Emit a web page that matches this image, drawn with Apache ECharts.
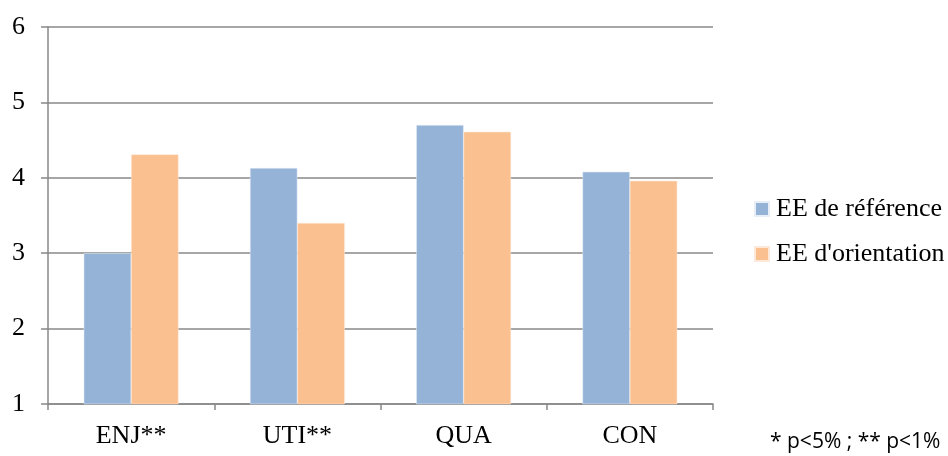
<!DOCTYPE html>
<html><head><meta charset="utf-8">
<script src="https://cdn.jsdelivr.net/npm/echarts@6/dist/echarts.min.js"></script>
<style>html,body{margin:0;padding:0;background:#fff}#c{width:948px;height:456px}</style>
</head><body><div id="c"></div>
<script>
const categories = ['ENJ**', 'UTI**', 'QUA', 'CON'];
const seriesNames = ['EE de référence', "EE d'orientation"];
const reference = [3.0, 4.13, 4.70, 4.08];
const orientation = [4.31, 3.40, 4.61, 3.96];
const noteText = '* p<5% ; ** p<1%';

const chart = echarts.init(document.getElementById('c'), null, {renderer: 'canvas'});
const serif = '"Liberation Serif", "Times New Roman", serif';
chart.setOption({
  animation: false,
  grid: {left: 48, right: 235, top: 27, bottom: 52},
  legend: {
    orient: 'vertical', left: 754, top: 196, padding: 0,
    itemWidth: 14, itemHeight: 14, itemGap: 19,
    icon: 'rect',
    textStyle: {fontFamily: serif, fontSize: 26, lineHeight: 26, color: '#000', padding: [0,0,0,2]},
    data: seriesNames
  },
  xAxis: {
    type: 'category', data: categories,
    axisLine: {lineStyle: {color: '#888', width: 1.5}},
    axisTick: {show: true, length: 6, lineStyle: {color: '#888', width: 1.5}},
    axisLabel: {fontFamily: serif, fontSize: 26, color: '#000', margin: 19}
  },
  yAxis: {
    type: 'value', min: 1, max: 6, interval: 1,
    axisLine: {show: true, lineStyle: {color: '#888', width: 1.5}},
    axisTick: {show: true, length: 7, lineStyle: {color: '#888', width: 1.5}},
    axisLabel: {fontFamily: serif, fontSize: 26, color: '#000', margin: 23},
    splitLine: {lineStyle: {color: '#888', width: 1.5}}
  },
  series: [
    {name: seriesNames[0], type: 'bar', data: reference, barGap: '0%', barCategoryGap: '43%',
     itemStyle: {color: '#95B3D7', borderColor: '#E8EEF7', borderWidth: 0.5}},
    {name: seriesNames[1], type: 'bar', data: orientation, barGap: '0%', barCategoryGap: '43%',
     itemStyle: {color: '#FAC090', borderColor: '#FDE9D9', borderWidth: 0.5}}
  ],
  graphic: [{
    type: 'text', left: 770, top: 432,
    style: {text: noteText, fontFamily: '"Open Sans", "Noto Sans", sans-serif', fontSize: 21, fill: '#000'}
  }]
});
</script></body></html>
